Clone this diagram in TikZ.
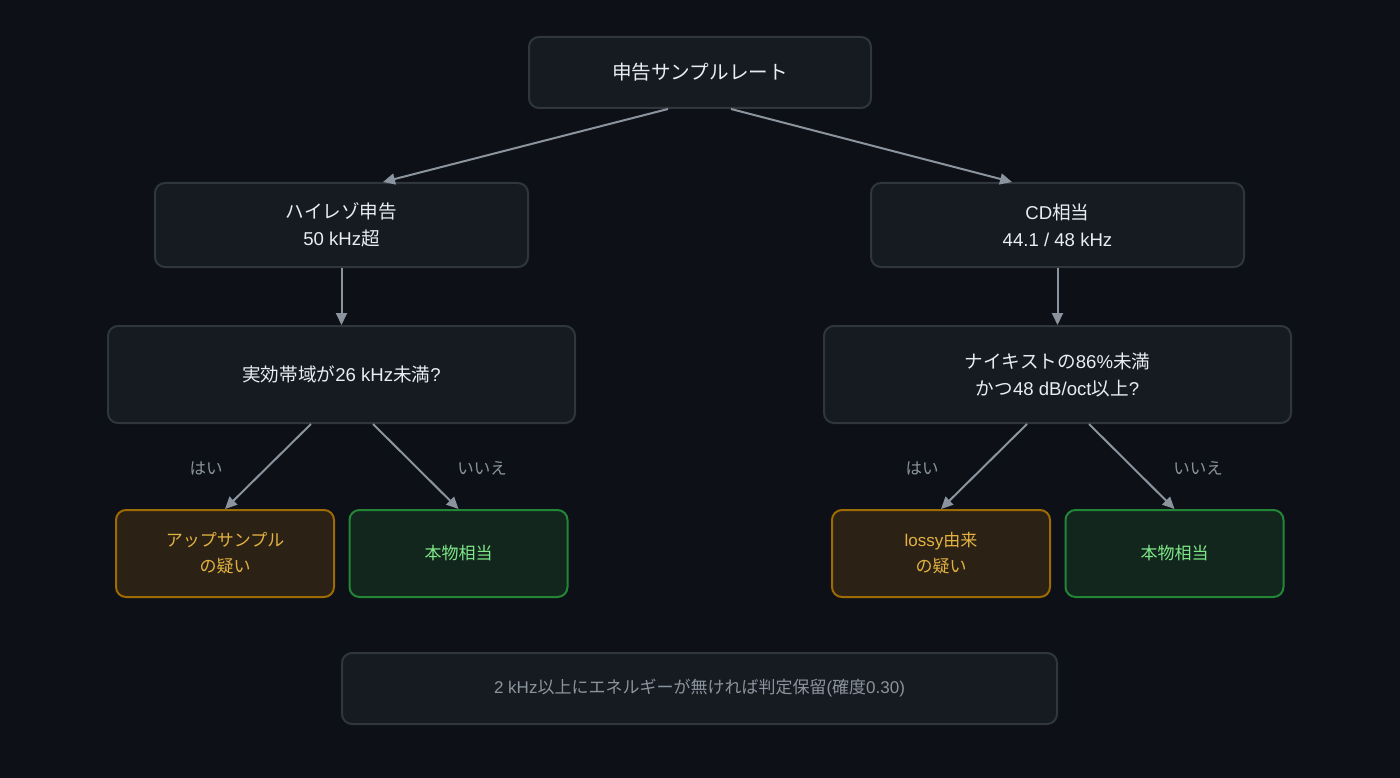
\documentclass[tikz,border=0pt]{standalone}
\usepackage{fontspec}
\setmainfont{Noto Sans CJK JP}
\newfontfamily\lat{Liberation Sans}
\usetikzlibrary{calc,arrows.meta}
\definecolor{bg}{HTML}{0D1117}
\definecolor{nfill}{HTML}{161B22}
\definecolor{nborder}{HTML}{30363D}
\definecolor{ntext}{HTML}{E6EDF3}
\definecolor{edgec}{HTML}{8B949E}
\definecolor{afill}{HTML}{2C2115}
\definecolor{aborder}{HTML}{9E6A03}
\definecolor{atext}{HTML}{E3B341}
\definecolor{gfill}{HTML}{12261E}
\definecolor{gborder}{HTML}{238636}
\definecolor{gtext}{HTML}{7EE787}
\tikzset{
  box/.style={draw=nborder, fill=nfill, line width=2pt, rounded corners=10pt,
    text=ntext, align=center, inner sep=0pt,
    font=\fontsize{18.6}{27}\selectfont},
  amberbox/.style={box, draw=aborder, fill=afill, text=atext,
    minimum width=218pt, minimum height=87pt, font=\fontsize{17}{26}\selectfont},
  greenbox/.style={box, draw=gborder, fill=gfill, text=gtext,
    minimum width=218pt, minimum height=87pt, font=\fontsize{17}{26}\selectfont},
  notebox/.style={box, text=edgec, font=\fontsize{17}{24}\selectfont},
  conn/.style={draw=edgec, line width=2pt, -{Triangle[length=12pt,width=11pt]}},
  elabel/.style={text=edgec, font=\fontsize{16.5}{20}\selectfont, inner sep=0pt},
}
\begin{document}
\begin{tikzpicture}[x=1pt,y=-1pt]
\fill[bg] (0,0) rectangle (1400,778);
\useasboundingbox (0,0) rectangle (1400,778);

\node[box, minimum width=342pt, minimum height=71pt, font=\fontsize{19.6}{27}\selectfont] (top) at (700,72.5) {申告サンプルレート};
\node[box, minimum width=373pt, minimum height=84pt] (hires) at (341.5,225) {ハイレゾ申告\\{\lat 50 kHz}超};
\node[box, minimum width=373pt, minimum height=84pt] (cd) at (1057.5,225) {{\lat CD}相当\\{\lat 44.1 / 48 kHz}};
\node[box, minimum width=467pt, minimum height=97pt] (q1) at (341.5,374.5) {実効帯域が{\lat 26 kHz}未満{\lat ?}};
\node[box, minimum width=467pt, minimum height=97pt] (q2) at (1057.5,374.5) {ナイキストの{\lat 86\%}未満\\かつ{\lat 48 dB/oct}以上{\lat ?}};
\node[amberbox] (up) at (225,553.5) {アップサンプル\\の疑い};
\node[greenbox] (real1) at (458.5,553.5) {本物相当};
\node[amberbox] (lossy) at (941,553.5) {{\lat lossy}由来\\の疑い};
\node[greenbox] (real2) at (1174.5,553.5) {本物相当};
\node[notebox, minimum width=715pt, minimum height=71pt] (note) at (699.5,688.5) {{\lat 2 kHz}以上にエネルギーが無ければ判定保留{\lat (}確度{\lat 0.30)}};

\draw[conn] ($(top.south)+(-32,0)$) -- ($(hires.north)+(41.5,0)$);
\draw[conn] ($(top.south)+(31,0)$) -- ($(cd.north)+(-45.5,0)$);
\draw[conn] (hires.south) -- (q1.north);
\draw[conn] (cd.south) -- (q2.north);
\draw[conn] ($(q1.south)+(-30.5,0)$) -- (up.north);
\draw[conn] ($(q1.south)+(31.5,0)$) -- (real1.north);
\draw[conn] ($(q2.south)+(-30.5,0)$) -- (lossy.north);
\draw[conn] ($(q2.south)+(31.5,0)$) -- (real2.north);

\node[elabel] (l1) at (206,468) {はい};
\node[elabel] (l2) at (482,468) {いいえ};
\node[elabel] (l3) at (922,468) {はい};
\node[elabel] (l4) at (1198,468) {いいえ};
\end{tikzpicture}
\end{document}
